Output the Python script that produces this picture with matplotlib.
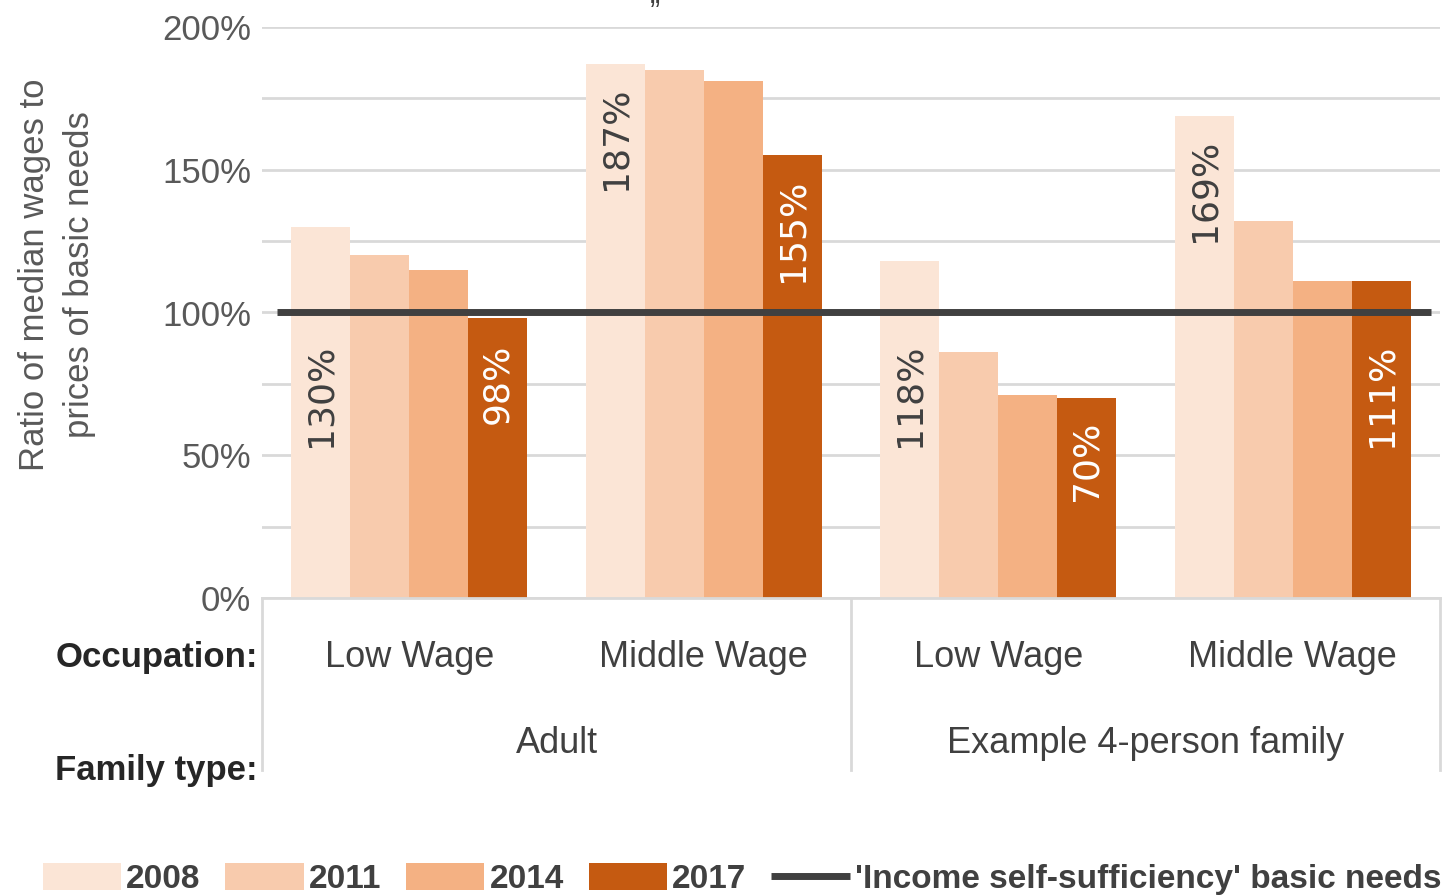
import numpy as np
import matplotlib
matplotlib.use('Agg')
import matplotlib.pyplot as plt

# data
occupations = ['Low Wage', 'Middle Wage', 'Low Wage', 'Middle Wage']
family_types = ['Adult', 'Example 4-person family']
years = ['2008', '2011', '2014', '2017']
v2008 = [130, 187, 118, 169]
v2011 = [120, 185, 86, 132]
v2014 = [115, 181, 71, 111]
v2017 = [98, 155, 70, 111]
basic_needs = 100
yticks = [0, 50, 100, 150, 200]

colors = ['#FBE5D6', '#F8CBAD', '#F4B183', '#C55A11']
REG = ['Liberation Sans', 'DejaVu Sans']

fig = plt.figure(figsize=(14.56, 8.96), dpi=100)
ax = fig.add_axes([262/1456, 1-598/896, (1440-262)/1456, (598-27)/896])

x = np.arange(len(occupations))
w = 0.2
series = [v2008, v2011, v2014, v2017]
bars = []
for i, (vals, c, yr) in enumerate(zip(series, colors, years)):
    b = ax.bar(x + (i - 1.5) * w, vals, w, color=c, label=yr, zorder=2)
    bars.append(b)

ln, = ax.plot([-0.45, 3.47], [basic_needs, basic_needs], color='#404040', lw=5,
              solid_capstyle='butt', zorder=3,
              label="'Income self-sufficiency' basic needs")

# data labels on first and last series (moved under the line when they would cross it)
for vals, xs, col in [(v2008, x - 1.5 * w, '#404040'), (v2017, x + 1.5 * w, 'white')]:
    for xi, v in zip(xs, vals):
        top = v - 8
        if top > basic_needs - 11 and top - 38 < basic_needs + 3:
            top = basic_needs - 11
        ax.text(xi, top, f'{v}%', rotation=90, ha='center', va='top',
                fontsize=26, color=col, family='DejaVu Sans', zorder=4)

ax.set_xlim(-0.5, 3.5)
ax.set_ylim(0, 200)
ax.set_yticks(np.arange(0, 201, 25))
ax.set_yticklabels([f'{t}%' if t in yticks else '' for t in range(0, 201, 25)],
                   family=REG, fontsize=25, color='#595959')
ax.tick_params(axis='y', length=0, pad=8)
ax.set_xticks([])
ax.grid(axis='y', color='#D9D9D9', lw=2, zorder=0)
for s in ['top', 'right', 'left']:
    ax.spines[s].set_visible(False)
ax.spines['bottom'].set_color('#D9D9D9')
ax.spines['bottom'].set_linewidth(2)

# multi-level category axis
tr = ax.get_xaxis_transform()
for xv in [-0.5, 1.5, 3.5]:
    ax.plot([xv, xv], [0, -(770-598)/571], color='#D9D9D9', lw=2,
            transform=tr, clip_on=False)
for xi, lab in zip(x, occupations):
    ax.text(xi, -(657-598)/571, lab, transform=tr, ha='center', va='center',
            fontsize=26, family=REG, color='#404040')
for k, lab in enumerate(family_types):
    ax.text(2 * k + 0.5, -(743-598)/571, lab, transform=tr, ha='center',
            va='center', fontsize=26, family=REG, color='#404040')

fig.text(258/1456, 1-657/896, 'Occupation:', ha='right', va='center',
         fontsize=25, fontweight='bold', family=REG, color='#262626')
fig.text(258/1456, 1-770/896, 'Family type:', ha='right', va='center',
         fontsize=25, fontweight='bold', family=REG, color='#262626')

fig.text(57/1456, 1-275/896, 'Ratio of median wages to\nprices of basic needs',
         rotation=90, ha='center', va='center', fontsize=25, family=REG,
         color='#595959', linespacing=1.45)

fig.text(655/1456, 1-14/896, '\u201d', ha='center', va='center', fontsize=22,
         color='#404040', family=REG)

leg = fig.legend(handles=bars + [ln], labels=years + [ln.get_label()],
                 loc='center left', bbox_to_anchor=(26/1456, 1-879/896),
                 ncol=5, frameon=False, handlelength=2.35, handleheight=0.85,
                 handletextpad=0.15, columnspacing=0.75, borderpad=0,
                 prop={'family': REG, 'weight': 'bold', 'size': 24})
for t in leg.get_texts():
    t.set_color('#404040')

fig.savefig('out.png', dpi=100)
